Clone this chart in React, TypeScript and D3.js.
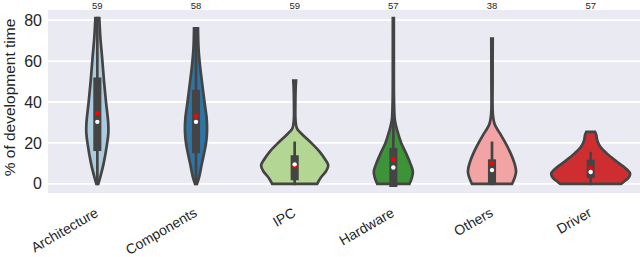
import React from "react";
import * as d3 from "d3";

const categories = ["Architecture", "Components", "IPC", "Hardware", "Others", "Driver"];
const counts = [59, 58, 59, 57, 38, 57];
const palette = ["#a6cee3", "#1f78b4", "#b2df8a", "#33a02c", "#fb9a99", "#e31a1c"];
const yTicks = [0, 20, 40, 60, 80];

// box / whisker stats (% of development time)
const q1 = [18, 17, 3.7, 0.4, 2, 4.8];
const q3 = [50, 44, 12, 15.6, 10, 9.8];
const whiskerLow = [0, 0, 0, 0, 0, 0];
const whiskerHigh = [81, 76, 20, 35, 20, 15];
const medians = [30.3, 30.3, 9.5, 8, 6.7, 5.8];
const means = [34.5, 33, 8.7, 11.8, 10, 7.5];

// [value, relative density] along each violin, top to bottom
const architectureDensity: [number, number][] = [
  [81, 0.05], [72, 0.075], [62, 0.12], [50, 0.17], [40, 0.22],
  [30, 0.275], [25, 0.28], [20, 0.25], [10, 0.16], [3, 0.07], [0, 0.025],
];
const componentsDensity: [number, number][] = [
  [76, 0.05], [66, 0.065], [58, 0.1], [50, 0.15], [40, 0.215], [32, 0.27],
  [26, 0.28], [20, 0.255], [10, 0.15], [3, 0.075], [0, 0.025],
];
const ipcDensity: [number, number][] = [
  [50.5, 0.035], [47, 0.025], [40, 0.018], [31, 0.022], [27, 0.06], [24, 0.2],
  [20, 0.42], [16, 0.62], [12, 0.77], [9, 0.85], [6, 0.79], [3, 0.66], [0, 0.57],
];
const hardwareDensity: [number, number][] = [
  [81, 0.013], [60, 0.013], [40, 0.018], [31, 0.04], [26, 0.1], [20, 0.2],
  [15, 0.32], [10, 0.43], [6, 0.495], [3, 0.47], [0, 0.41],
];
const othersDensity: [number, number][] = [
  [71, 0.018], [50, 0.015], [34, 0.022], [29, 0.07], [25, 0.19], [20, 0.34],
  [15, 0.47], [10, 0.57], [6, 0.61], [3, 0.575], [0, 0.51],
];
const driverDensity: [number, number][] = [
  [25.4, 0.11], [24, 0.14], [21, 0.17], [18, 0.25], [15, 0.4],
  [11, 0.65], [7, 0.92], [5, 1.0], [3, 0.96], [1, 0.84], [0, 0.775],
];
const densities = [architectureDensity, componentsDensity, ipcDensity, hardwareDensity, othersDensity, driverDensity];

const W = 640;
const H = 257;
const FONT = "'Liberation Sans', Arial, sans-serif";
const TEXT = "#262626";
const GRAY = "#444444";
const LW = 2.7;

// seaborn-ish desaturation of the palette
function desat(c: string) {
  const h = d3.hsl(c);
  h.s *= 0.8;
  return h.formatHex();
}

export default function App() {
  const x = d3.scaleBand<string>().domain(categories).range([48, 640]).padding(0);
  const y = d3.scaleLinear().domain([-4.5, 85]).range([193, 10]);
  const w = d3.scaleLinear().domain([0, 1]).range([0, x.bandwidth() * 0.4]);
  const [x0, x1] = x.range();
  const [yb, yt] = y.range();

  return (
    <div style={{ position: "absolute", left: 0, top: 0 }}>
      <svg width={W} height={H} style={{ display: "block" }}>
        <rect x={x0} y={yt} width={x1 - x0} height={yb - yt} fill="#eaeaf2" />
        {yTicks.map(t => (
          <line key={t} x1={x0} x2={x1} y1={y(t)} y2={y(t)} stroke="#fff" strokeWidth={1.8} />
        ))}

        {categories.map((c, i) => {
          const cx = x(c)! + x.bandwidth() / 2;
          const area = d3.area<[number, number]>()
            .y(d => y(d[0]))
            .x0(d => cx - w(d[1]))
            .x1(d => cx + w(d[1]))
            .curve(d3.curveCatmullRom.alpha(0.5));
          return (
            <g key={c}>
              <path d={area(densities[i]) ?? ""} fill={desat(palette[i])} stroke={GRAY}
                strokeWidth={LW} strokeLinejoin="miter" />
              <line x1={cx} x2={cx} y1={y(whiskerLow[i])} y2={y(whiskerHigh[i])}
                stroke={GRAY} strokeWidth={LW} strokeLinecap="square" />
              <line x1={cx} x2={cx} y1={y(q1[i])} y2={y(q3[i])}
                stroke={GRAY} strokeWidth={LW * 3} strokeLinecap="square" />
              <circle cx={cx} cy={y(means[i])} r={2.4} fill="#ff0000" />
              <circle cx={cx} cy={y(medians[i])} r={2.2} fill="#fff" />
              <text x={cx} y={8.5} textAnchor="middle" fontFamily={FONT} fontSize={9.5} fill={TEXT}>
                {counts[i]}
              </text>
              <text transform={`translate(${cx + 2},215.5) rotate(-30)`} textAnchor="end"
                fontFamily={FONT} fontSize={14} fill={TEXT}>
                {c}
              </text>
            </g>
          );
        })}

        {yTicks.map(t => (
          <text key={t} x={42} y={y(t)} dy="0.35em" textAnchor="end" fontFamily={FONT} fontSize={16} fill={TEXT}>
            {t}
          </text>
        ))}
        <text transform="translate(14.5,97.5) rotate(-90)" textAnchor="middle" fontFamily={FONT}
          fontSize={15.5} fill={TEXT}>
          % of development time
        </text>
      </svg>
    </div>
  );
}
